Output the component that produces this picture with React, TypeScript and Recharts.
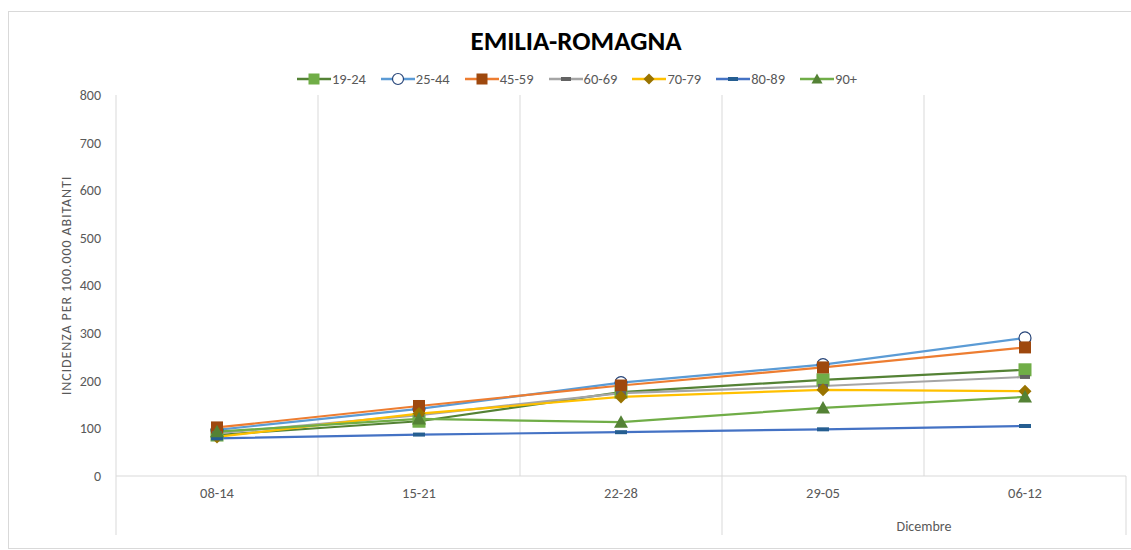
import { LineChart, Line, XAxis, YAxis, CartesianGrid } from "recharts"

const weeks = ["08-14", "15-21", "22-28", "29-05", "06-12"]
const yTicks = [0, 100, 200, 300, 400, 500, 600, 700, 800]

const age19_24 = [86, 115, 176, 202, 223]
const age25_44 = [97, 141, 196, 234, 290]
const age45_59 = [102, 147, 190, 228, 270]
const age60_69 = [90, 128, 174, 189, 208]
const age70_79 = [82, 131, 166, 181, 178]
const age80_89 = [79, 87, 92, 98, 105]
const age90plus = [93, 120, 113, 143, 166]

const data = weeks.map((w, i) => ({
  week: w,
  a19: age19_24[i],
  a25: age25_44[i],
  a45: age45_59[i],
  a60: age60_69[i],
  a70: age70_79[i],
  a80: age80_89[i],
  a90: age90plus[i],
}))

const W = 1131
const H = 550
const PLOT_LEFT = 116
const PLOT_RIGHT = 5
const PLOT_TOP = 95
const PLOT_BOTTOM = 74
const BAND = (W - PLOT_LEFT - PLOT_RIGHT) / weeks.length
const FONT = "Carlito, Lato, 'Open Sans', sans-serif"

type Kind = "square" | "circle" | "dash" | "diamond" | "triangle"

function Marker({ kind, cx, cy, fill, stroke, size }: { kind: Kind; cx: number; cy: number; fill: string; stroke?: string; size: number }) {
  const s = size / 2
  if (kind === "square") return <rect x={cx - s} y={cy - s} width={size} height={size} fill={fill} />
  if (kind === "circle") return <circle cx={cx} cy={cy} r={s} fill="#fff" stroke={stroke} strokeWidth={1.2} />
  if (kind === "dash") return <rect x={cx - s} y={cy - 2} width={size} height={4} fill={fill} />
  if (kind === "diamond")
    return <polygon points={`${cx},${cy - s} ${cx + s},${cy} ${cx},${cy + s} ${cx - s},${cy}`} fill={fill} />
  return <polygon points={`${cx},${cy - s} ${cx + s},${cy + s * 0.8} ${cx - s},${cy + s * 0.8}`} fill={fill} />
}

const series = [
  { key: "a19", name: "19-24", line: "#548235", fill: "#70AD47", kind: "square" as Kind, size: 13 },
  { key: "a25", name: "25-44", line: "#5B9BD5", fill: "#fff", stroke: "#264478", kind: "circle" as Kind, size: 12 },
  { key: "a45", name: "45-59", line: "#ED7D31", fill: "#9E480E", kind: "square" as Kind, size: 12 },
  { key: "a60", name: "60-69", line: "#A5A5A5", fill: "#636363", kind: "dash" as Kind, size: 10 },
  { key: "a70", name: "70-79", line: "#FFC000", fill: "#997300", kind: "diamond" as Kind, size: 13 },
  { key: "a80", name: "80-89", line: "#4472C4", fill: "#255E91", kind: "dash" as Kind, size: 12 },
  { key: "a90", name: "90+", line: "#70AD47", fill: "#548235", kind: "triangle" as Kind, size: 14 },
]

function LegendBox() {
  return (
    <div
      style={{
        position: "absolute",
        left: 0,
        top: 70,
        width: 1154,
        display: "flex",
        justifyContent: "center",
        gap: 15,
        fontFamily: FONT,
        fontSize: 14.5,
        color: "#595959",
      }}
    >
      {series.map((s) => (
        <div key={s.key} style={{ display: "flex", alignItems: "center", gap: 1 }}>
          <svg width={34} height={16}>
            <line x1={0} x2={34} y1={8} y2={8} stroke={s.line} strokeWidth={2.4} />
            <Marker kind={s.kind} cx={17} cy={8} fill={s.fill} stroke={s.stroke} size={s.kind === "dash" ? 10 : 11} />
          </svg>
          <span>{s.name}</span>
        </div>
      ))}
    </div>
  )
}

function XTick(props: any) {
  const { x, y, payload, index } = props
  const left = x - BAND / 2
  const right = x + BAND / 2
  return (
    <g>
      <text x={x} y={y + 14} textAnchor="middle" fill="#595959" fontSize={14.5} fontFamily={FONT}>
        {payload.value}
      </text>
      {(index === 0 || index === 3) && <line x1={left} x2={left} y1={y - 8} y2={y + 51} stroke="#D9D9D9" />}
      {index === weeks.length - 1 && <line x1={right} x2={right} y1={y - 8} y2={y + 51} stroke="#D9D9D9" />}
      {index === 4 && (
        <text x={left} y={y + 47} textAnchor="middle" fill="#595959" fontSize={14} fontFamily={FONT}>
          Dicembre
        </text>
      )}
    </g>
  )
}

export default function App() {
  return (
    <div style={{ position: "absolute", left: 0, top: 0, width: W, height: H, background: "#fff" }}>
      <svg width={W} height={H} style={{ position: "absolute", left: 0, top: 0 }}>
        <rect x={8.5} y={11.5} width={1140} height={537} fill="none" stroke="#D9D9D9" />
      </svg>
      <div style={{ position: "absolute", left: 0, top: 0 }}>
        <LineChart
          width={W}
          height={H}
          data={data}
          margin={{ top: PLOT_TOP, right: PLOT_RIGHT, bottom: 0, left: 0 }}
        >
          <CartesianGrid
            horizontal={false}
            stroke="#D9D9D9"
            verticalCoordinatesGenerator={({ offset }: any) =>
              [1, 2, 3, 4].map((i) => offset.left + (i * offset.width) / weeks.length)
            }
          />
          <XAxis
            dataKey="week"
            stroke="#D9D9D9"
            tickLine={false}
            tick={<XTick />}
            height={PLOT_BOTTOM}
            interval={0}
            padding={{ left: BAND / 2, right: BAND / 2 }}
          />
          <YAxis
            domain={[0, 800]}
            ticks={yTicks}
            width={PLOT_LEFT}
            stroke="#D9D9D9"
            tickLine={false}
            tick={{ fill: "#595959", fontSize: 14, fontFamily: FONT }}
            tickMargin={9}
            label={{
              value: "INCIDENZA PER 100.000 ABITANTI",
              angle: -90,
              position: "insideLeft",
              offset: 66,
              style: { textAnchor: "middle", fill: "#595959", fontSize: 14, letterSpacing: 0.9, fontFamily: FONT },
            }}
          />
          {series.map((s) => (
            <Line
              key={s.key}
              dataKey={s.key}
              name={s.name}
              stroke={s.line}
              strokeWidth={2.2}
              isAnimationActive={false}
              dot={(p: any) => (
                <Marker key={`${s.key}-${p.index}`} kind={s.kind} cx={p.cx} cy={p.cy} fill={s.fill} stroke={s.stroke} size={s.size} />
              )}
              activeDot={false}
            />
          ))}
        </LineChart>
      </div>
      <LegendBox />
      <div
        style={{
          position: "absolute",
          left: 0,
          top: 24,
          width: 1152,
          textAlign: "center",
          fontFamily: FONT,
          fontWeight: "bold",
          fontSize: 27,
          color: "#000",
        }}
      >
        EMILIA-ROMAGNA
      </div>
    </div>
  )
}
